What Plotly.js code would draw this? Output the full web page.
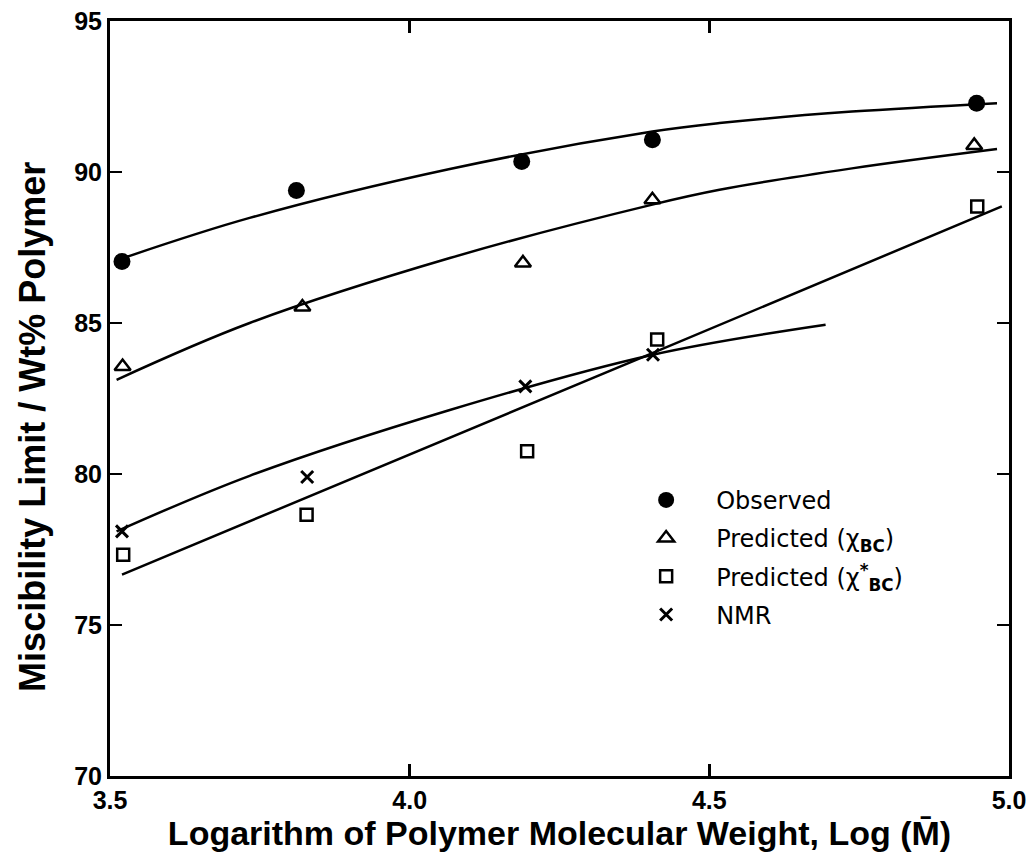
<!DOCTYPE html>
<html>
<head>
<meta charset="utf-8">
<script src="https://cdn.plot.ly/plotly-3.0.1.min.js"></script>
<style>html,body{margin:0;padding:0;background:#fff;}#chart{width:1035px;height:862px;}</style>
</head>
<body>
<div id="chart"></div>
<script>
// Measured points
const obsX = [3.52, 3.811, 4.187, 4.405, 4.946];
const obsY = [87.04, 89.39, 90.35, 91.07, 92.28];
const predX = [3.521, 3.821, 4.189, 4.405, 4.942];
const predY = [83.56, 85.53, 86.99, 89.08, 90.88];
const predStarX = [3.522, 3.828, 4.196, 4.413, 4.947];
const predStarY = [77.33, 78.65, 80.75, 84.45, 88.86];
const nmrX = [3.52, 3.829, 4.193, 4.406];
const nmrY = [78.1, 79.9, 82.9, 83.95];

// Fitted curves
const obsCurveX = [3.528, 3.733, 4.067, 4.405, 4.517, 4.738, 4.98];
const obsCurveY = [87.19, 88.48, 90.10, 91.34, 91.62, 92.0, 92.28];
const predCurveX = [3.511, 3.733, 4.067, 4.405, 4.517, 4.738, 4.98];
const predCurveY = [83.12, 85.0, 87.15, 88.92, 89.41, 90.12, 90.76];
const predStarLineX = [3.52, 4.383, 4.988];
const predStarLineY = [76.67, 83.82, 88.86];
const nmrCurveX = [3.511, 3.733, 4.067, 4.406, 4.694];
const nmrCurveY = [78.1, 79.94, 82.12, 83.95, 84.94];

const legendNames = ['Observed', 'Predicted (χ<sub><b>BC</b></sub>)', 'Predicted (χ<sup><b>*</b></sup><sub><b>BC</b></sub>)', 'NMR'];
const xTicks = [3.5, 4.0, 4.5, 5.0];
const yTicks = [70, 75, 80, 85, 90, 95];
const yTitle = 'Miscibility Limit / Wt% Polymer';
const xTitle = 'Logarithm of Polymer Molecular Weight, Log (M\u0304)';

const lineStyle = {color: '#000', width: 2.5, shape: 'spline', smoothing: 1};
const traces = [
  {x: obsCurveX, y: obsCurveY, mode: 'lines', line: lineStyle, showlegend: false, hoverinfo: 'skip'},
  {x: predCurveX, y: predCurveY, mode: 'lines', line: lineStyle, showlegend: false, hoverinfo: 'skip'},
  {x: predStarLineX, y: predStarLineY, mode: 'lines', line: {color: '#000', width: 2.5}, showlegend: false, hoverinfo: 'skip'},
  {x: nmrCurveX, y: nmrCurveY, mode: 'lines', line: lineStyle, showlegend: false, hoverinfo: 'skip'},
  {x: obsX, y: obsY, mode: 'markers', name: legendNames[0], legendgroup: 'a',
   marker: {symbol: 'circle', size: 17, color: '#000'}},
  {x: predX, y: predY, mode: 'markers', name: legendNames[1], legendgroup: 'b',
   marker: {symbol: 'triangle-up-open', size: 14, color: '#000', line: {width: 2.5, color: '#000'}}},
  {x: predStarX, y: predStarY, mode: 'markers', name: legendNames[2], legendgroup: 'c',
   marker: {symbol: 'square-open', size: 12, color: '#000', line: {width: 2.5, color: '#000'}}},
  {x: nmrX, y: nmrY, mode: 'markers', name: legendNames[3], legendgroup: 'd',
   marker: {symbol: 'x-thin-open', size: 12, color: '#000', line: {width: 3, color: '#000'}}}
];

const tickFont = {family: 'Liberation Sans, Arial, sans-serif', size: 25, color: '#000', weight: 700};
const layout = {
  width: 1035, height: 862,
  margin: {l: 110, r: 26, t: 21, b: 86},
  paper_bgcolor: '#fff', plot_bgcolor: '#fff',
  xaxis: {
    range: [3.5, 5.0], tickvals: xTicks, ticktext: xTicks.map(v => v.toFixed(1)),
    ticks: 'inside', ticklen: 12, tickwidth: 2.5, tickcolor: '#000',
    showline: true, linewidth: 3, linecolor: '#000', mirror: 'ticks',
    showgrid: false, zeroline: false, tickfont: tickFont,
    title: {text: xTitle, standoff: 5,
      font: {family: 'Liberation Sans, Arial, sans-serif', size: 34, color: '#000', weight: 700}}
  },
  yaxis: {
    range: [70, 95], tickvals: yTicks,
    ticks: 'inside', ticklen: 12, tickwidth: 2.5, tickcolor: '#000',
    showline: true, linewidth: 3, linecolor: '#000', mirror: 'ticks',
    showgrid: false, zeroline: false, tickfont: tickFont
  },
  annotations: [{
    text: yTitle, textangle: -90, xref: 'paper', yref: 'paper',
    x: -0.086, y: 0.462, xanchor: 'center', yanchor: 'middle', showarrow: false,
    font: {family: 'Liberation Sans, Arial, sans-serif', size: 36, color: '#000', weight: 700}
  }],
  legend: {
    x: 0.563, y: 0.395, xanchor: 'left', yanchor: 'top',
    bgcolor: 'rgba(0,0,0,0)', borderwidth: 0, itemwidth: 90,
    font: {family: 'DejaVu Sans, sans-serif', size: 24, color: '#000'},
    traceorder: 'grouped', tracegroupgap: 4
  },
  showlegend: true
};

Plotly.newPlot('chart', traces, layout, {displayModeBar: false, staticPlot: true});
</script>
</body>
</html>
